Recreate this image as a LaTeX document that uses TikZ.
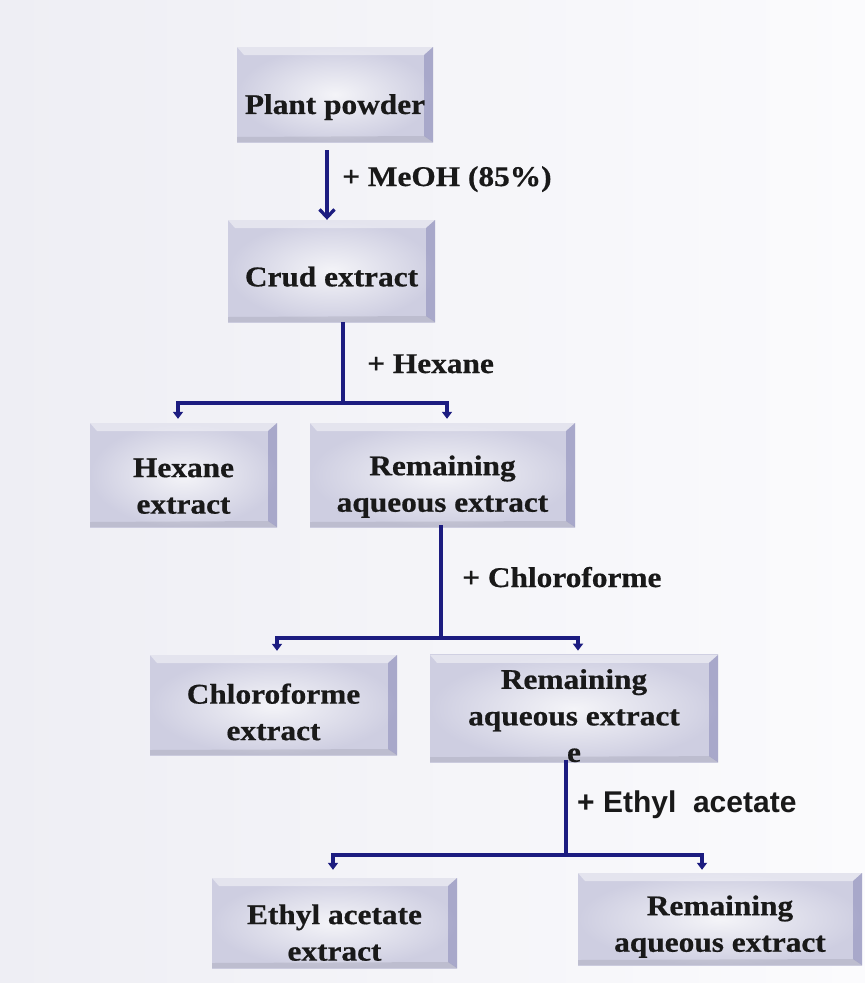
\documentclass[tikz,border=0pt]{standalone}
\usepackage{fontspec}
\setmainfont{Liberation Serif}[FakeStretch=1.1, BoldFeatures={FakeBold=0.6}]
\newfontfamily\arialfont{Liberation Sans}
\usetikzlibrary{arrows.meta}

\definecolor{flowblue}{RGB}{28,28,128}
\definecolor{paperL}{RGB}{238,238,244}
\definecolor{paperR}{RGB}{251,251,253}
\definecolor{boxface}{RGB}{206,206,225}
\definecolor{boxglow}{RGB}{244,244,248}

\def\boxfont{\fontsize{28.5}{36.5}\selectfont\bfseries}
\def\lift#1{\rule{0pt}{#1pt}}

\tikzset{
	extractbox/.style 2 args={rectangle, minimum width=#1pt, minimum height=#2pt, inner sep=0pt,
		align=center, font=\boxfont, text=black!90, inner color=boxglow, outer color=boxface,
		path picture={
			\fill[white, opacity=0.45] (path picture bounding box.north west) -- (path picture bounding box.north east)
				-- ([shift={(-9pt,-8pt)}]path picture bounding box.north east) -- ([shift={(7pt,-8pt)}]path picture bounding box.north west) -- cycle;
			\fill[black!60!blue, opacity=0.18] (path picture bounding box.north east) -- (path picture bounding box.south east)
				-- ([shift={(-9pt,6pt)}]path picture bounding box.south east) -- ([shift={(-9pt,-8pt)}]path picture bounding box.north east) -- cycle;
			\fill[black, opacity=0.08] (path picture bounding box.south west) -- (path picture bounding box.south east)
				-- ([shift={(-9pt,6pt)}]path picture bounding box.south east) -- ([shift={(0pt,5pt)}]path picture bounding box.south west) -- cycle;
		}},
	flowline/.style={draw=flowblue, line width=3.3pt},
	branch/.style={flowline, -{Triangle[length=7pt,width=10pt]}},
	addlabel/.style={inner sep=0pt, text=black!90, font=\fontsize{28.5}{36}\selectfont\bfseries}
}

\begin{document}
\begin{tikzpicture}[x=1pt, y=-1pt]
		%%%%% START %%%%%
		
		\shade[left color=paperL, right color=paperR] (0,0) rectangle (865,983);
		\useasboundingbox (0,0) rectangle (865,983);
		
		\node[extractbox={196}{95}] (plant) at (335,94.5) {\lift{45}Plant powder};
		\node[extractbox={207}{102}] (crud) at (331.5,271) {\lift{31}Crud extract};
		
		\node[extractbox={187}{104}] (hexane) at (183.5,475) {\lift{41}Hexane\\extract};
		\node[extractbox={265}{104}] (remA) at (442.5,475) {\lift{43}Remaining\\aqueous extract};
		
		\node[extractbox={247}{100}] (chloro) at (273.5,705) {\lift{34}Chloroforme\\extract};
		\node[extractbox={288}{107}] (remB) at (574,708.5) {\lift{34}Remaining\\aqueous extract\\e};
		
		\node[extractbox={245}{90}] (ethyl) at (334.5,923) {\lift{39}Ethyl acetate\\extract};
		\node[extractbox={284}{92}] (remC) at (720,919) {\lift{35}Remaining\\aqueous extract};
		
		\coordinate (hexsplit) at (343,403);
		\coordinate (chlsplit) at (441,638);
		\coordinate (ethsplit) at (566,855);
		
		\draw[flowline, -{Straight Barb[length=8pt,width=15pt]}] ([shift={(-8pt,-8pt)}]plant.south) -- ([xshift=-4.5pt]crud.north);
		\node[addlabel, anchor=base west] (meoh) at (342,186) {+ MeOH (85\%)};
		
		\draw[flowline] (crud.south -| hexsplit) -- (hexsplit);
		\draw[branch] (hexsplit) -| ([shift={(-5.5pt,4pt)}]hexane.north);
		\draw[branch] (hexsplit) -| ([shift={(4.5pt,4pt)}]remA.north);
		\node[addlabel, anchor=base west] (hexlbl) at (367,373) {+ Hexane};
		
		\draw[flowline] ([yshift=2pt]remA.south -| chlsplit) -- (chlsplit);
		\draw[branch] (chlsplit) -| ([shift={(3.5pt,4pt)}]chloro.north);
		\draw[branch] (chlsplit) -| ([shift={(4pt,4pt)}]remB.north);
		\node[addlabel, anchor=base west] (chllbl) at (462,587) {+ Chloroforme};
		
		\draw[flowline] ([yshift=2pt]remB.south -| ethsplit) -- (ethsplit);
		\draw[branch] (ethsplit) -| ([shift={(-1.5pt,8pt)}]ethyl.north);
		\draw[branch] (ethsplit) -| ([shift={(-18pt,3pt)}]remC.north);
		\node[addlabel, anchor=base west, font=\arialfont\fontsize{30}{36}\selectfont\bfseries] (ethlbl) at (577,812) {+ Ethyl\ \ acetate};
		
		%%%%% END %%%%%
\end{tikzpicture}
\end{document}
